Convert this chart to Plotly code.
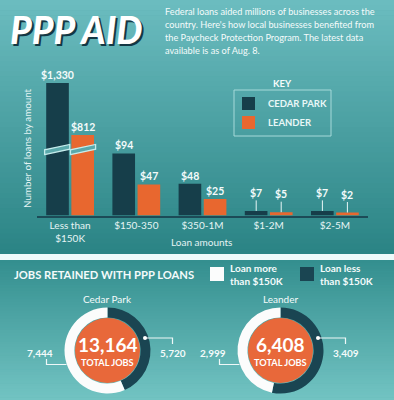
import plotly.graph_objects as go

# ---------------- data ----------------
categories = ["Less than<br>$150K", "$150-350", "$350-1M", "$1-2M", "$2-5M"]
cedar_park = [1330, 94, 48, 7, 7]
leander = [812, 47, 25, 5, 2]
series_names = ["CEDAR PARK", "LEANDER"]

jobs_labels = ["Loan less than $150K", "Loan more than $150K"]
cedar_jobs = [5720, 7444]
leander_jobs = [3409, 2999]
towns = ["Cedar Park", "Leander"]

intro_lines = [
    "Federal loans aided millions of businesses across the",
    "country. Here's how local businesses benefited from",
    "the Paycheck Protection Program. The latest data",
    "available is as of Aug. 8.",
]

# ---------------- style ----------------
W, H = 394, 400
CEDAR = "#163e4a"
LEANDER = "#e8672f"
DARK_RING = "#1a4552"
WHITE_RING = "#fbfcfc"
ORANGE_CIRCLE = "#e8683a"
TXT = "#f4fbfb"
FONT = "Lato, Roboto, sans-serif"


def X(px):
    return px / W


def Y(py):
    return 1 - py / H


def note(x, y, text, size, color=TXT, bold=False, xanchor="center", yanchor="middle", **kw):
    f = dict(family=FONT, size=size, color=color)
    if bold:
        f["weight"] = 700
    d = dict(x=X(x), y=Y(y), xref="paper", yref="paper", text=text, showarrow=False,
             xanchor=xanchor, yanchor=yanchor, font=f)
    d.update(kw)
    return d


# broken-axis display transform for the bar heights
BREAK = 98
ORIGIN = 654
SLOPE = 0.152
MIN_H = 4.5


def disp(v):
    h = v if v <= BREAK else BREAK + (v - ORIGIN) * SLOPE
    return max(h, MIN_H)


def hexmix(c1, c2, t):
    a = [int(c1[i:i + 2], 16) for i in (1, 3, 5)]
    b = [int(c2[i:i + 2], 16) for i in (1, 3, 5)]
    return "#%02x%02x%02x" % tuple(round(a[k] + (b[k] - a[k]) * t) for k in range(3))


shapes = []
N = 50
for (p0, p1, c0, c1) in [(0, 254, "#6bbcbf", "#2b8485"), (260, 400, "#348f8f", "#72c3c2")]:
    for i in range(N):
        y0 = p0 + (p1 - p0) * i / N
        y1 = p0 + (p1 - p0) * (i + 1) / N + 0.6
        shapes.append(dict(type="rect", xref="paper", yref="paper", x0=0, x1=1,
                           y0=Y(y1), y1=Y(y0), line=dict(width=0), layer="below",
                           fillcolor=hexmix(c0, c1, i / (N - 1))))
shapes.append(dict(type="rect", xref="paper", yref="paper", x0=0, x1=1,
                   y0=Y(260), y1=Y(254), line=dict(width=0), layer="below", fillcolor="#eefafa"))

fig = go.Figure()
idx = list(range(len(categories)))
fig.add_trace(go.Bar(x=idx, y=[disp(v) for v in cedar_park], name=series_names[0],
                     marker=dict(color=CEDAR, line=dict(width=0)), customdata=cedar_park,
                     hovertemplate="%{customdata}<extra>Cedar Park</extra>"))
fig.add_trace(go.Bar(x=idx, y=[disp(v) for v in leander], name=series_names[1],
                     marker=dict(color=LEANDER, line=dict(width=0)), customdata=leander,
                     hovertemplate="%{customdata}<extra>Leander</extra>"))

annotations = []
OFF = 12.5
for s, vals in enumerate([cedar_park, leander]):
    shift = -OFF if s == 0 else OFF
    for i, v in enumerate(vals):
        txt = "$%s" % format(v, ",")
        f = dict(family=FONT, size=10.5, color=TXT, weight=700)
        if v >= 20:
            annotations.append(dict(x=i, y=disp(v), xref="x", yref="y", text=txt, showarrow=False,
                                    xanchor="center", yanchor="bottom", xshift=shift, yshift=0, font=f))
        else:
            annotations.append(dict(x=i, y=disp(v), xref="x", yref="y", text=txt, showarrow=True,
                                    ax=0, ay=-18, arrowhead=0, arrowwidth=1, arrowcolor="#e8f6f6",
                                    standoff=0, xshift=shift, font=f))

# axis break stripes across the two tall bars
for (xa, xb) in [(-0.385, -0.005), (0.005, 0.385)]:
    ya, yb, t = 96, 104, 3.6
    path = "M %f,%f L %f,%f L %f,%f L %f,%f Z" % (xa, ya - t, xb, yb - t, xb, yb + t, xa, ya + t)
    shapes.append(dict(type="path", xref="x", yref="y", path=path,
                       fillcolor="#5aa9ab", line=dict(color="#c4ecec", width=1.3), layer="above"))

# title + intro
annotations.append(dict(x=X(8), y=Y(30), xref="paper", yref="paper", xanchor="left", yanchor="middle",
                        text="PPP AID", showarrow=False,
                        font=dict(family="Lato, Open Sans, sans-serif", size=37, color="#ffffff",
                                  weight=900, style="italic", shadow="2px 2px 0px #143844")))
for k, line in enumerate(intro_lines):
    annotations.append(note(163, 11.5 + 13 * k, line, 9.2, xanchor="left"))

# axis titles
annotations.append(note(27, 148, "Number of loans by amount", 9.8, color="#e3f3f3", textangle=-90))
annotations.append(note(201, 242, "Loan amounts", 10, color="#e3f3f3"))

# key
shapes.append(dict(type="rect", xref="paper", yref="paper", x0=X(234), x1=X(331), y0=Y(136), y1=Y(90),
                   line=dict(color="#a6d9d9", width=1), fillcolor="rgba(0,0,0,0)"))
annotations.append(note(282, 84, "KEY", 9.5, bold=True))
for col, nm, yc in [(CEDAR, series_names[0], 103.5), (LEANDER, series_names[1], 122.5)]:
    shapes.append(dict(type="rect", xref="paper", yref="paper", x0=X(242), x1=X(255),
                       y0=Y(yc + 6.5), y1=Y(yc - 6.5), line=dict(width=0), fillcolor=col))
    annotations.append(note(266, yc, nm, 9.5, color="#e9f7f7", bold=True, xanchor="left"))

# bottom panel header + legend
annotations.append(note(12, 274, "JOBS RETAINED WITH PPP LOANS", 11.2, bold=True, xanchor="left"))
for col, nm, x0 in [(WHITE_RING, "Loan more<br>than $150K", 210), (DARK_RING, "Loan less<br>than $150K", 300)]:
    shapes.append(dict(type="rect", xref="paper", yref="paper", x0=X(x0), x1=X(x0 + 14),
                       y0=Y(281), y1=Y(267), line=dict(width=0), fillcolor=col))
    annotations.append(note(x0 + 18, 274, nm, 10, bold=True, xanchor="left", align="left"))

# donuts
centers = [(107.5, 350.5), (280.5, 350.5)]
R = 43
for vals, (cx, cy), town in zip([cedar_jobs, leander_jobs], centers, towns):
    fig.add_trace(go.Pie(values=vals, labels=jobs_labels, hole=0.77, sort=False,
                         direction="clockwise", rotation=0, textinfo="none",
                         marker=dict(colors=[DARK_RING, WHITE_RING], line=dict(width=0)),
                         domain=dict(x=[X(cx - R), X(cx + R)], y=[Y(cy + R), Y(cy - R)]),
                         showlegend=False,
                         hovertemplate="%{label}: %{value:,}<extra>" + town + "</extra>"))
    shapes.append(dict(type="circle", xref="paper", yref="paper", x0=X(cx - 32.5), x1=X(cx + 32.5),
                       y0=Y(cy + 32.5), y1=Y(cy - 32.5), line=dict(width=0), fillcolor=ORANGE_CIRCLE))
    annotations.append(note(cx, 299, town, 10))
    annotations.append(note(cx, cy - 6, format(sum(vals), ","), 19, color="#ffffff", bold=True))
    annotations.append(note(cx, cy + 11.5, "TOTAL JOBS", 9.2, color="#ffffff", bold=True))
    # right leader (less than 150K, dark)
    dx, dyy = cx + 37.5, 338
    lx = cx + 65
    shapes.append(dict(type="path", xref="paper", yref="paper",
                       path="M %f,%f L %f,%f L %f,%f" % (X(dx), Y(dyy), X(lx), Y(dyy), X(lx), Y(dyy + 6)),
                       line=dict(color="#eef8f8", width=1.2)))
    shapes.append(dict(type="circle", xref="paper", yref="paper", x0=X(dx - 2), x1=X(dx + 2),
                       y0=Y(dyy + 2), y1=Y(dyy - 2), line=dict(width=0), fillcolor="#ffffff"))
    annotations.append(note(lx, 353, format(vals[0], ","), 10, bold=True))
    # left leader (more than 150K, white)
    vx = cx - 61
    shapes.append(dict(type="path", xref="paper", yref="paper",
                       path="M %f,%f L %f,%f L %f,%f" % (X(vx), Y(359), X(vx), Y(364.5), X(cx - 41), Y(364.5)),
                       line=dict(color="#eef8f8", width=1.2)))
    annotations.append(note(cx - 67.5, 352.5, format(vals[1], ","), 10, bold=True))

fig.update_layout(
    width=W, height=H, margin=dict(l=0, r=0, t=0, b=0),
    paper_bgcolor="#4aa3a5", plot_bgcolor="rgba(0,0,0,0)",
    barmode="group", bargap=0.24, bargroupgap=0.1, showlegend=False,
    shapes=shapes, annotations=annotations,
    xaxis=dict(domain=[X(37), X(368)], type="linear", range=[-0.5, len(categories) - 0.5],
               tickvals=idx, ticktext=categories,
               showline=True, linecolor="#1c4b57", linewidth=1.5, ticks="", showgrid=False,
               zeroline=False, tickfont=dict(family=FONT, size=10, color="#e6f5f5"),
               fixedrange=True),
    yaxis=dict(domain=[Y(215.5), 1], range=[0, 215.5 / 0.66], visible=False, fixedrange=True),
    hovermode="closest",
)

fig.write_html("out.html", config={"displayModeBar": False},
               post_script="document.body.style.margin='0';")
